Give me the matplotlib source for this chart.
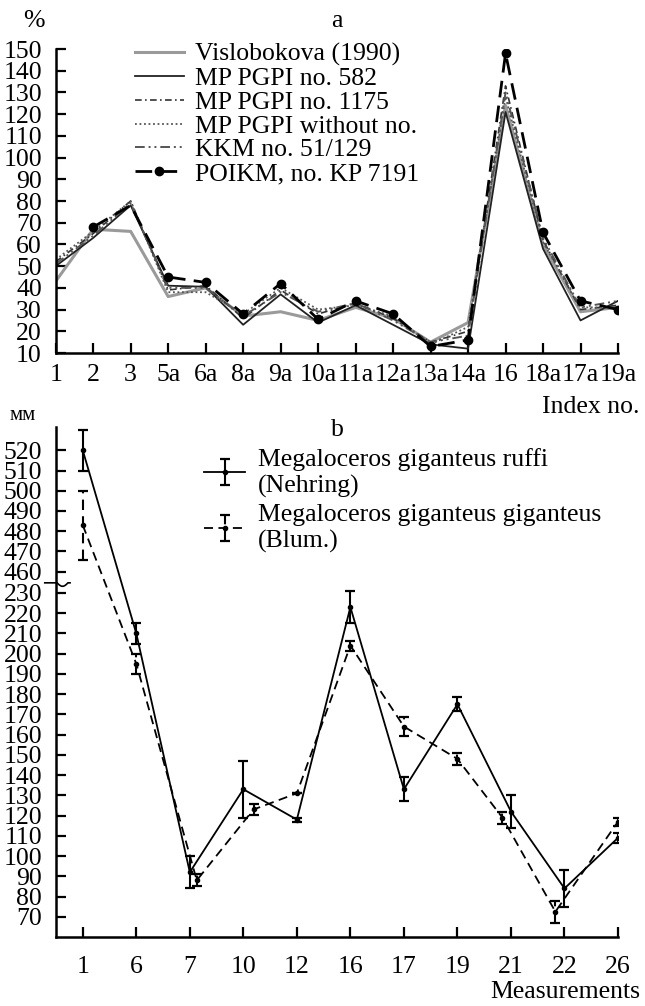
import matplotlib.pyplot as plt
import numpy as np

plt.rcParams['font.family'] = ['Liberation Serif', 'DejaVu Serif']
plt.rcParams['font.size'] = 18.5

# (a) indices, %
index_labels = ['1', '2', '3', '5a', '6a', '8a', '9a', '10a', '11a', '12a',
                '13a', '14a', '16', '18a', '17a', '19a']
vislobokova = [43, 67, 66, 36, 40, 27, 29, 25, 31, 26, 15, 24, 124, 60, 29, 31]
pgpi_582 = [50, 63, 78, 41, 40.5, 23, 37, 24, 32, 23, 14, 12, 121, 58, 25, 34]
pgpi_1175 = [52, 65, 80, 39, 41, 26, 39, 28, 33, 26, 15, 20, 133, 62, 30, 32]
pgpi_no_num = [53, 66, 80, 38, 38, 28, 40, 30, 32, 27, 14, 22, 128, 61, 31, 31]
kkm_51_129 = [51, 64, 79, 40, 40, 27, 38, 29, 33, 25, 15, 18, 130, 63, 31, 34]
poikm_7191 = [np.nan, 68, 78, 45, 42.5, 28, 42, 25.5, 34, 28, 13, 16, 148, 65.5, 34, 30]

# (b) measurements, mm
meas_labels = ['1', '6', '7', '10', '12', '16', '17', '19', '21', '22', '26']
ruffi = [520, 210, 92, 133, 118, 223, 133, 175, 122, 84, 109]
ruffi_err = [10, 5, 8, 14, 1, 8, 6, 3.5, 8, 9, 2.5]
giganteus = [483, 195, 88, 123, 131, 204, 164, 148, 119, 72.5, 117]
giganteus_err = [17, 5, 3, 2.5, 0, 2.5, 4.5, 3, 3, 5.5, 2]

W, H = 645, 1006
fig = plt.figure(figsize=(W / 100, H / 100), dpi=100)


def style_axes(ax):
    for s in ('top', 'right'):
        ax.spines[s].set_visible(False)
    for s in ('left', 'bottom'):
        ax.spines[s].set_linewidth(1.8)
    ax.tick_params(direction='in', length=7, width=1.6, pad=8)


# ---------- panel a ----------
ax1 = fig.add_axes([55.7 / W, 1 - 353 / H, (618 - 55.7) / W, (353 - 49) / H])
x = np.arange(len(index_labels))
ax1.plot(x, vislobokova, color='#9a9a9a', lw=2.2, label='Vislobokova (1990)')
ax1.plot(x, pgpi_582, color='#222222', lw=1.3, label='MP PGPI no. 582')
ax1.plot(x, pgpi_1175, color='#333333', lw=1.2, ls=(0, (4, 2, 1, 2)),
         label='MP PGPI no. 1175')
ax1.plot(x, pgpi_no_num, color='#555555', lw=1.3, ls=(0, (1, 1.5)),
         label='MP PGPI without no.')
ax1.plot(x, kkm_51_129, color='#555555', lw=1.4, ls=(0, (5, 2, 1, 2, 1, 2)),
         label='KKM no. 51/129')
marked = [i for i in range(len(index_labels)) if i not in (0, 2)]
ax1.plot(x, poikm_7191, color='black', lw=2.0, ls=(0, (6, 3)), marker='o',
         ms=6, markevery=marked, label='POIKM, no. KP 7191')
ax1.set_xlim(0, len(index_labels) - 1)
ax1.set_ylim(10, 150)
ax1.set_xticks(x)
ax1.set_xticklabels(index_labels)
ax1.set_yticks(np.arange(10, 151, 10))
style_axes(ax1)
ax1.tick_params(axis='y', pad=10)
ax1.legend(loc='upper left', bbox_to_anchor=(135 / W, 1 - 43 / H),
           bbox_transform=fig.transFigure, frameon=False, borderpad=0,
           borderaxespad=0, labelspacing=0.03, handlelength=1.9,
           handletextpad=0.45)

fig.text(34 / W, 1 - 21 / H, '%', ha='center', va='center')
fig.text(337 / W, 1 - 21 / H, 'a', ha='center', va='center')
fig.text(640 / W, 1 - 407 / H, 'Index no.', ha='right', va='center')

# ---------- panel b (broken y axis) ----------
BREAK_LO, BREAK_HI = 235, 454.5
GAP = BREAK_HI - BREAK_LO


def fwd(v):
    v = np.asarray(v, float)
    return np.where(v <= BREAK_LO, v, np.where(v >= BREAK_HI, v - GAP, BREAK_LO))


def inv(u):
    u = np.asarray(u, float)
    return np.where(u <= BREAK_LO, u, u + GAP)


ax2 = fig.add_axes([56 / W, 1 - 937 / H, (618 - 56) / W, (937 - 427) / H])
ax2.set_yscale('function', functions=(fwd, inv))
xm = np.arange(len(meas_labels))
dodge = np.array([0, 0, 0.13, 0.19, 0, 0, 0, 0, -0.16, -0.17, 0])

c1 = ax2.errorbar(xm, ruffi, yerr=ruffi_err, color='black', lw=1.3,
                  marker='o', ms=3, capsize=3.4, capthick=1.6, elinewidth=1.5,
                  label='Megaloceros giganteus ruffi\n(Nehring)')
c2 = ax2.errorbar(xm + dodge, giganteus, yerr=giganteus_err, color='black',
                  lw=1.3, ls=(0, (5, 3)), marker='o', ms=3, capsize=3.4,
                  capthick=1.6, elinewidth=1.5,
                  label='Megaloceros giganteus giganteus\n(Blum.)')
c2[2][0].set_linestyle((0, (5, 3)))

ax2.set_xlim(-0.5, len(meas_labels) - 1)
ax2.set_ylim(60, 531.5)
ax2.set_xticks(xm)
ax2.set_xticklabels(meas_labels)
yt = list(range(70, 231, 10)) + list(range(460, 521, 10))
ax2.set_yticks(yt)
ax2.set_yticklabels([str(v) for v in yt])
ax2.yaxis.set_minor_locator(plt.NullLocator())
style_axes(ax2)
ax2.tick_params(axis='y', pad=10)
ax2.tick_params(axis='x', pad=14)

# break mark on the y axis
t = np.linspace(0, 1, 60)
bx = -0.02 + 0.045 * t
by = np.full_like(t, BREAK_LO + 0.5) + 2.2 * np.sin(2 * np.pi * t + 0.3)
ax2.plot(bx, by, color='black', lw=1.2, clip_on=False,
         transform=ax2.get_yaxis_transform())

ax2.legend(handles=[c1, c2], loc='upper left', bbox_to_anchor=(204 / W, 1 - 448 / H),
           bbox_transform=fig.transFigure, frameon=False, borderpad=0,
           borderaxespad=0, labelspacing=0.25, handlelength=1.6,
           handletextpad=0.5)

fig.text(23 / W, 1 - 416 / H, 'мм', ha='center', va='center', fontsize=15)
fig.text(337 / W, 1 - 430 / H, 'b', ha='center', va='center')
fig.text(640 / W, 1 - 992 / H, 'Measurements', ha='right', va='center')

fig.savefig('out.png', dpi=100)
